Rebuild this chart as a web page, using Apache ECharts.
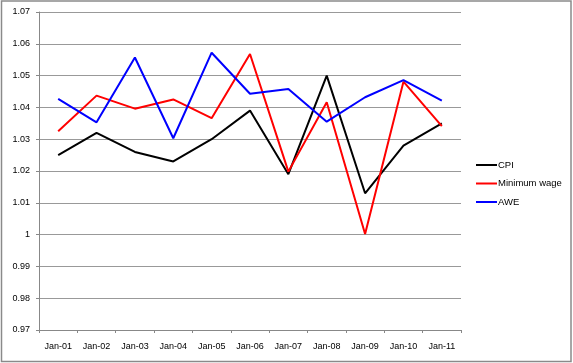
<!DOCTYPE html>
<html>
<head>
<meta charset="utf-8">
<script src="https://cdn.jsdelivr.net/npm/echarts@6/dist/echarts.min.js"></script>
<style>
html,body{margin:0;padding:0;background:#fff;}
#c{width:573px;height:363px;}
</style>
</head>
<body>
<div id="c"></div>
<script>
const categories = ['Jan-01','Jan-02','Jan-03','Jan-04','Jan-05','Jan-06','Jan-07','Jan-08','Jan-09','Jan-10','Jan-11'];
const cpi = [1.025, 1.032, 1.026, 1.023, 1.030, 1.039, 1.019, 1.050, 1.013, 1.028, 1.035];
const minimumWage = [1.0325, 1.0437, 1.0396, 1.0425, 1.0366, 1.0568, 1.0198, 1.0416, 1.0002, 1.0481, 1.0341];
const awe = [1.0427, 1.0353, 1.0557, 1.0303, 1.0572, 1.0443, 1.0458, 1.0355, 1.0432, 1.0486, 1.0421];
const yTicks = {min: 0.97, max: 1.07, interval: 0.01};

const chart = echarts.init(document.getElementById('c'), null, {renderer: 'canvas'});
const font = 'Liberation Sans';
chart.setOption({
  animation: false,
  backgroundColor: '#fff',
  textStyle: {fontFamily: font},
  graphic: [{
    type: 'rect',
    shape: {x: 1.5, y: 1, width: 569.5, height: 360.5},
    style: {fill: 'none', stroke: '#8a8a8a', lineWidth: 1.5},
    silent: true
  }],
  grid: {left: 39, right: 112, top: 12, bottom: 33, containLabel: false},
  legend: {
    orient: 'vertical',
    left: 476,
    top: 160,
    padding: 0,
    icon: 'rect',
    itemWidth: 21,
    itemHeight: 2,
    itemGap: 8.5,
    textStyle: {fontFamily: font, fontSize: 9.5, color: '#000', padding: [0,0,0,-4]},
    data: ['CPI', 'Minimum wage', 'AWE']
  },
  xAxis: {
    type: 'category',
    data: categories,
    boundaryGap: true,
    axisLine: {lineStyle: {color: '#888', width: 1}},
    axisTick: {show: true, length: 3, lineStyle: {color: '#888'}},
    axisLabel: {color: '#000', fontSize: 9, fontFamily: font, margin: 12},
    splitLine: {show: false}
  },
  yAxis: {
    type: 'value',
    min: yTicks.min,
    max: yTicks.max,
    interval: yTicks.interval,
    axisLine: {show: true, lineStyle: {color: '#888', width: 1}},
    axisTick: {show: true, length: 3, lineStyle: {color: '#888'}},
    axisLabel: {color: '#000', fontSize: 9, fontFamily: font, margin: 9,
      formatter: v => String(parseFloat(v.toFixed(2)))},
    splitLine: {show: true, lineStyle: {color: '#999', width: 1}}
  },
  series: [
    {name: 'CPI', type: 'line', data: cpi, showSymbol: false, symbol: 'none',
      lineStyle: {color: '#000', width: 2}, itemStyle: {color: '#000'}},
    {name: 'Minimum wage', type: 'line', data: minimumWage, showSymbol: false, symbol: 'none',
      lineStyle: {color: '#ff0000', width: 2}, itemStyle: {color: '#ff0000'}},
    {name: 'AWE', type: 'line', data: awe, showSymbol: false, symbol: 'none',
      lineStyle: {color: '#0000ff', width: 2}, itemStyle: {color: '#0000ff'}}
  ]
});
</script>
</body>
</html>
